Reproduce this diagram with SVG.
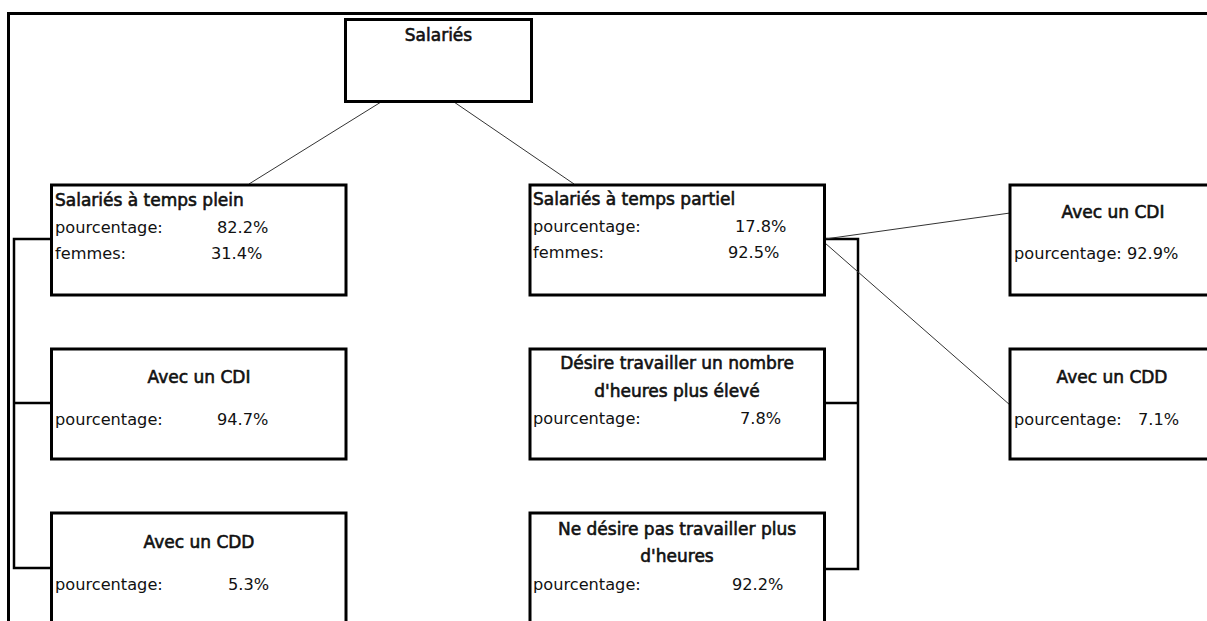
<svg xmlns="http://www.w3.org/2000/svg" width="1207" height="621" viewBox="0 0 1207 621">
<style>
.box{fill:#fff;stroke:#000;stroke-width:3}
.t{font-family:"DejaVu Sans",sans-serif;font-size:16.2px;fill:#111}
.h{font-family:"DejaVu Sans",sans-serif;font-size:17px;fill:#111;stroke:#111;stroke-width:0.6}
.c{text-anchor:middle}
.thin{stroke:#333;stroke-width:1;fill:none}
.br{stroke:#000;stroke-width:2.5;fill:none}
</style>
<rect width="1207" height="621" fill="#fff"/>
<path d="M8.5,621 V13.5 H1207" fill="none" stroke="#000" stroke-width="3"/>
<g id="connectors">
<line class="thin" x1="381" y1="102" x2="249" y2="184"/>
<line class="thin" x1="454" y1="102" x2="574" y2="184"/>
<polyline class="br" points="52,239 14,239 14,568 52,568"/>
<line class="br" x1="14" y1="403" x2="52" y2="403"/>
<polyline class="br" points="824,239 858,239 858,569 824,569"/>
<line class="br" x1="824" y1="403" x2="858" y2="403"/>
<line class="thin" x1="825" y1="239" x2="1010" y2="213"/>
<line class="thin" x1="825" y1="243" x2="1010" y2="405"/>
</g>
<g id="root">
<rect class="box" x="345.5" y="19.5" width="186" height="82"/>
<text class="h c" x="438.5" y="41">Salariés</text>
</g>
<g id="fulltime">
<rect class="box" x="51.5" y="185" width="294.5" height="110"/>
<text class="h" x="55" y="206">Salariés à temps plein</text>
<text class="t" x="55" y="233">pourcentage:</text>
<text class="t" x="217" y="233">82.2%</text>
<text class="t" x="55" y="259">femmes:</text>
<text class="t" x="211" y="259">31.4%</text>
</g>
<g id="cdi_left">
<rect class="box" x="51.5" y="349" width="294.5" height="110"/>
<text class="h c" x="199" y="383">Avec un CDI</text>
<text class="t" x="55" y="425">pourcentage:</text>
<text class="t" x="217" y="425">94.7%</text>
</g>
<g id="cdd_left">
<rect class="box" x="51.5" y="513" width="294.5" height="150"/>
<text class="h c" x="199" y="548">Avec un CDD</text>
<text class="t" x="55" y="590">pourcentage:</text>
<text class="t" x="228" y="590">5.3%</text>
</g>
<g id="parttime">
<rect class="box" x="530" y="185" width="294.5" height="110"/>
<text class="h" x="533" y="205">Salariés à temps partiel</text>
<text class="t" x="533" y="232">pourcentage:</text>
<text class="t" x="735" y="232">17.8%</text>
<text class="t" x="533" y="258">femmes:</text>
<text class="t" x="728" y="258">92.5%</text>
</g>
<g id="more_hours">
<rect class="box" x="530" y="349" width="294.5" height="110"/>
<text class="h c" x="677" y="369">Désire travailler un nombre</text>
<text class="h c" x="677" y="397">d'heures plus élevé</text>
<text class="t" x="533" y="424">pourcentage:</text>
<text class="t" x="740" y="424">7.8%</text>
</g>
<g id="no_more">
<rect class="box" x="530" y="513" width="294.5" height="150"/>
<text class="h c" x="677" y="535">Ne désire pas travailler plus</text>
<text class="h c" x="677" y="562">d'heures</text>
<text class="t" x="533" y="590">pourcentage:</text>
<text class="t" x="732" y="590">92.2%</text>
</g>
<g id="cdi_right">
<rect class="box" x="1010" y="185" width="220" height="110"/>
<text class="h c" x="1113" y="218">Avec un CDI</text>
<text class="t" x="1014" y="259">pourcentage: 92.9%</text>
</g>
<g id="cdd_right">
<rect class="box" x="1010" y="349" width="220" height="110"/>
<text class="h c" x="1112" y="383">Avec un CDD</text>
<text class="t" x="1014" y="425">pourcentage:</text>
<text class="t" x="1138" y="425">7.1%</text>
</g>
</svg>
